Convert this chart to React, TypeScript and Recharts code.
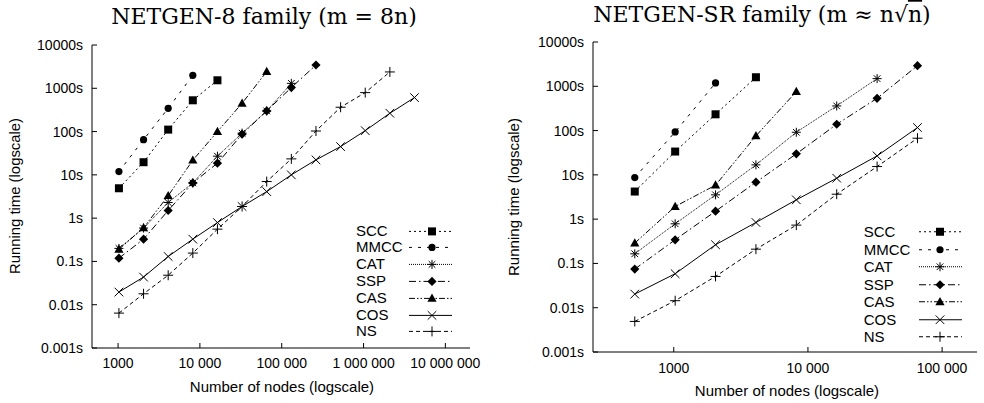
import React from 'react';
import { LineChart, Line, XAxis, YAxis, Legend } from 'recharts';

// ---------- data ----------
const NODES_8 = [1024, 2048, 4096, 8192, 16384, 32768, 65536, 131072, 262144, 524288, 1048576, 2097152, 4194304];
const SCC_8 = [4.9, 19.6, 111, 528, 1530];
const MMCC_8 = [11.9, 65, 345, 1995];
const CAT_8 = [0.2, 0.59, 2.3, 6.5, 27, 92, 300, 1300];
const SSP_8 = [0.119, 0.327, 1.5, 6.5, 18.6, 87, 300, 1040, 3450];
const CAS_8 = [0.19, 0.6, 3.3, 21.8, 100, 450, 2430];
const COS_8 = [0.0196, 0.0435, 0.13, 0.327, 0.79, 1.86, 4.1, 10, 22.2, 45, 105, 265, 610];
const NS_8 = [0.0064, 0.0179, 0.048, 0.156, 0.557, 1.86, 7.0, 23.4, 103, 365, 794, 2385];

const NODES_SR = [512, 1024, 2048, 4096, 8192, 16384, 32768, 65536];
const SCC_SR = [4.2, 33.6, 233, 1600];
const MMCC_SR = [8.7, 93, 1190];
const CAT_SR = [0.165, 0.785, 3.54, 16.8, 91.6, 360, 1490];
const SSP_SR = [0.0745, 0.342, 1.51, 6.84, 29.8, 139, 536, 2926];
const CAS_SR = [0.288, 1.93, 5.85, 75.9, 759];
const COS_SR = [0.0203, 0.0585, 0.264, 0.841, 2.73, 8.4, 26.8, 117];
const NS_SR = [0.0049, 0.0144, 0.0509, 0.21, 0.733, 3.66, 15.4, 67.2];

const SERIES_NAMES = ['SCC', 'MMCC', 'CAT', 'SSP', 'CAS', 'COS', 'NS'];
const Y_TICKS = [0.001, 0.01, 0.1, 1, 10, 100, 1000, 10000];
const X_TICKS_8 = [1000, 10000, 100000, 1000000, 10000000];
const X_TICKS_SR = [1000, 10000, 100000];

const TITLE_8 = 'NETGEN-8 family';
const TITLE_SR = 'NETGEN-SR family';
const Y_TITLE = 'Running time (logscale)';
const X_TITLE = 'Number of nodes (logscale)';

// ---------- styles ----------
const FONT = '"Liberation Sans", Arial, Helvetica, sans-serif';
const SERIF = '"DejaVu Serif", "Liberation Serif", serif';
const TICK = 5;

type Shape = 'square' | 'circle' | 'star' | 'diamond' | 'triangle' | 'cross' | 'plus';
const STYLE: Record<string, { dash?: string; shape: Shape }> = {
  SCC: { dash: '2 3', shape: 'square' },
  MMCC: { dash: '3 6', shape: 'circle' },
  CAT: { dash: '1 1', shape: 'star' },
  SSP: { dash: '7 3 1.5 3', shape: 'diamond' },
  CAS: { dash: '6 2 1.5 2 1.5 2', shape: 'triangle' },
  COS: { dash: undefined, shape: 'cross' },
  NS: { dash: '4 3', shape: 'plus' },
};

function marker(shape: Shape, cx: number, cy: number, key?: any) {
  const s = { stroke: '#000', strokeWidth: 1 };
  switch (shape) {
    case 'square':
      return <rect key={key} x={cx - 4} y={cy - 4} width={8} height={8} fill="#000" />;
    case 'circle':
      return <circle key={key} cx={cx} cy={cy} r={3.6} fill="#000" />;
    case 'diamond':
      return <polygon key={key} points={`${cx},${cy - 4.6} ${cx + 4.6},${cy} ${cx},${cy + 4.6} ${cx - 4.6},${cy}`} fill="#000" />;
    case 'triangle':
      return <polygon key={key} points={`${cx},${cy - 4.8} ${cx + 4.6},${cy + 3.4} ${cx - 4.6},${cy + 3.4}`} fill="#000" />;
    case 'star':
      return (
        <g key={key} {...s}>
          <line x1={cx - 4.5} x2={cx + 4.5} y1={cy} y2={cy} />
          <line x1={cx} x2={cx} y1={cy - 4.5} y2={cy + 4.5} />
          <line x1={cx - 3.3} x2={cx + 3.3} y1={cy - 3.3} y2={cy + 3.3} />
          <line x1={cx - 3.3} x2={cx + 3.3} y1={cy + 3.3} y2={cy - 3.3} />
        </g>
      );
    case 'cross':
      return (
        <g key={key} {...s}>
          <line x1={cx - 4.3} x2={cx + 4.3} y1={cy - 4.3} y2={cy + 4.3} />
          <line x1={cx - 4.3} x2={cx + 4.3} y1={cy + 4.3} y2={cy - 4.3} />
        </g>
      );
    default:
      return (
        <g key={key} {...s}>
          <line x1={cx - 5} x2={cx + 5} y1={cy} y2={cy} />
          <line x1={cx} x2={cx} y1={cy - 5} y2={cy + 5} />
        </g>
      );
  }
}

const fmtY = (v: number) => `${v}s`;
const fmtX = (v: number) => (v < 10000 ? String(v) : String(v).replace(/\B(?=(\d{3})+(?!\d))/g, ' '));

const LeftTick = (p: any) => (
  <g>
    <line x1={p.x} x2={p.x + TICK} y1={p.y} y2={p.y} stroke="#000" />
    <text x={p.x - 9} y={p.y} textAnchor="end" dominantBaseline="central" fontSize={14} fontFamily={FONT} fill="#000">
      {fmtY(p.payload.value)}
    </text>
  </g>
);
const RightTick = (p: any) => <line x1={p.x} x2={p.x - TICK} y1={p.y} y2={p.y} stroke="#000" />;
const TopTick = (p: any) => <line x1={p.x} x2={p.x} y1={p.y} y2={p.y + TICK} stroke="#000" />;
const makeBottomTick = (dy: number) => (p: any) => (
  <g>
    <line x1={p.x} x2={p.x} y1={p.y} y2={p.y - TICK} stroke="#000" />
    <text x={p.x} y={p.y + dy} textAnchor="middle" dominantBaseline="central" fontSize={14} fontFamily={FONT} fill="#000">
      {fmtX(p.payload.value)}
    </text>
  </g>
);

function buildRows(nodes: number[], series: number[][]) {
  return nodes.map((n, i) => {
    const row: any = { n };
    SERIES_NAMES.forEach((name, k) => {
      const v = series[k][i];
      if (v !== undefined) row[name] = v;
    });
    return row;
  });
}

const makeLegend = (textW: number, rowH: number, sampleW: number, markX: number) => (props: any) => {
  const payload = [...(props.payload || [])].sort(
    (a: any, b: any) => SERIES_NAMES.indexOf(a.value) - SERIES_NAMES.indexOf(b.value)
  );
  return (
    <div style={{ fontFamily: FONT, fontSize: 15, color: '#000' }}>
      {payload.map((e: any) => {
        const st = STYLE[e.value];
        return (
          <div key={e.value} style={{ display: 'flex', alignItems: 'center', height: rowH }}>
            <span style={{ width: textW, lineHeight: `${rowH}px` }}>{e.value}</span>
            <svg width={sampleW} height={rowH} style={{ display: 'block' }}>
              <line x1={0} x2={sampleW} y1={rowH / 2} y2={rowH / 2} stroke="#000" strokeDasharray={st.dash} />
              {marker(st.shape, markX, rowH / 2)}
            </svg>
          </div>
        );
      })}
    </div>
  );
};

interface PanelProps {
  rows: any[];
  xDomain: [number, number];
  xTicks: number[];
  margin: { top: number; right: number; bottom: number; left: number };
  yAxisW: number;
  xAxisH: number;
  xLabelDy: number;
  legendStyle: any;
  legendContent: any;
}

function Panel(p: PanelProps) {
  return (
    <LineChart width={492} height={403} data={p.rows} margin={p.margin}>
      <XAxis
        dataKey="n"
        type="number"
        scale="log"
        domain={p.xDomain}
        allowDataOverflow
        ticks={p.xTicks}
        interval={0}
        tickSize={0}
        tickMargin={0}
        height={p.xAxisH}
        axisLine={{ stroke: '#000' }}
        tickLine={false}
        tick={makeBottomTick(p.xLabelDy)}
      />
      <XAxis
        xAxisId="top"
        orientation="top"
        dataKey="n"
        type="number"
        scale="log"
        domain={p.xDomain}
        allowDataOverflow
        ticks={p.xTicks}
        interval={0}
        tickSize={0}
        tickMargin={0}
        height={0}
        axisLine={{ stroke: '#000' }}
        tickLine={false}
        tick={TopTick}
      />
      <YAxis
        type="number"
        scale="log"
        domain={[0.001, 10000]}
        allowDataOverflow
        ticks={Y_TICKS}
        interval={0}
        tickSize={0}
        tickMargin={0}
        width={p.yAxisW}
        axisLine={{ stroke: '#000' }}
        tickLine={false}
        tick={LeftTick}
      />
      <YAxis
        yAxisId="right"
        orientation="right"
        type="number"
        scale="log"
        domain={[0.001, 10000]}
        allowDataOverflow
        ticks={Y_TICKS}
        interval={0}
        tickSize={0}
        tickMargin={0}
        width={0}
        axisLine={{ stroke: '#000' }}
        tickLine={false}
        tick={RightTick}
      />
      <Legend
        layout="vertical"
        align="center"
        verticalAlign="middle"
        wrapperStyle={p.legendStyle}
        content={p.legendContent}
      />
      {SERIES_NAMES.map((name) => (
        <Line
          key={name}
          dataKey={name}
          name={name}
          stroke="#000"
          strokeWidth={1}
          strokeDasharray={STYLE[name].dash}
          isAnimationActive={false}
          legendType="line"
          dot={(d: any) =>
            d.cx == null || d.cy == null || d.value == null ? <g key={d.index} /> : marker(STYLE[name].shape, d.cx, d.cy, d.index)
          }
          activeDot={false}
        />
      ))}
    </LineChart>
  );
}

const rows8 = buildRows(NODES_8, [SCC_8, MMCC_8, CAT_8, SSP_8, CAS_8, COS_8, NS_8]);
const rowsSR = buildRows(NODES_SR, [SCC_SR, MMCC_SR, CAT_SR, SSP_SR, CAS_SR, COS_SR, NS_SR]);

export default function App() {
  return (
    <div style={{ position: 'absolute', left: 0, top: 0, width: 984, height: 403, background: '#fff' }}>
      <div style={{ position: 'absolute', left: 0, top: 0 }}>
        <Panel
          rows={rows8}
          xDomain={[480, 20000000]}
          xTicks={X_TICKS_8}
          margin={{ top: 45, right: 22, bottom: 25, left: 32 }}
          yAxisW={60}
          xAxisH={30}
          xLabelDy={15}
          legendStyle={{ position: 'absolute', left: 356, top: 222.6, width: 100, height: 118 }}
          legendContent={makeLegend(53, 16.8, 43, 23)}
        />
      </div>
      <div style={{ position: 'absolute', left: 492, top: 0 }}>
        <Panel
          rows={rowsSR}
          xDomain={[250, 182000]}
          xTicks={X_TICKS_SR}
          margin={{ top: 42, right: 7, bottom: 21, left: 41 }}
          yAxisW={60}
          xAxisH={30}
          xLabelDy={16}
          legendStyle={{ position: 'absolute', left: 371.7, top: 223.2, width: 100, height: 123 }}
          legendContent={makeLegend(55.3, 17.5, 43, 21)}
        />
      </div>
      <svg width={984} height={403} style={{ position: 'absolute', left: 0, top: 0, pointerEvents: 'none' }}>
        <text x={264} y={23.5} textAnchor="middle" fontFamily={SERIF} fontSize={22} fill="#000">
          {TITLE_8} (m = 8n)
        </text>
        <text x={762} y={21.5} textAnchor="middle" fontFamily={SERIF} fontSize={22} fill="#000">
          {TITLE_SR} (m ≈ n√<tspan style={{ textDecoration: 'overline' }}>n</tspan>)
        </text>
        <text x={14.5} y={196} transform="rotate(-90 14.5 196)" textAnchor="middle" dominantBaseline="central" fontFamily={FONT} fontSize={15.5} textLength={156} lengthAdjust="spacingAndGlyphs" fill="#000">
          {Y_TITLE}
        </text>
        <text x={282} y={386} textAnchor="middle" dominantBaseline="central" fontFamily={FONT} fontSize={15} fill="#000">
          {X_TITLE}
        </text>
        <text x={513} y={197} transform="rotate(-90 513 197)" textAnchor="middle" dominantBaseline="central" fontFamily={FONT} fontSize={15.5} textLength={158} lengthAdjust="spacingAndGlyphs" fill="#000">
          {Y_TITLE}
        </text>
        <text x={787} y={390} textAnchor="middle" dominantBaseline="central" fontFamily={FONT} fontSize={15} fill="#000">
          {X_TITLE}
        </text>
      </svg>
    </div>
  );
}
